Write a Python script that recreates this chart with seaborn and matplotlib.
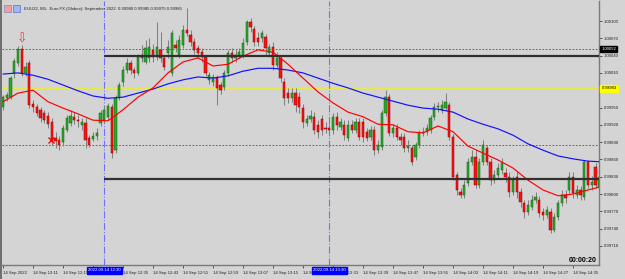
import matplotlib
matplotlib.use("Agg")
import matplotlib.pyplot as plt
import matplotlib.transforms as mtransforms
from matplotlib.patches import Rectangle
import seaborn as sns
import numpy as np
import pandas as pd

# ---- data: M1 candles, prices in points above 0.99000 (1 point = 0.00001) ----
BASE = 0.99000
POINT = 0.00001

open_pts = [951, 966, 968, 1010, 1027, 1051, 1010, 1027, 956, 951,
            946, 941, 935, 925, 897, 894, 890, 911, 923, 934,
            928, 920, 923, 897, 895, 901, 923, 928, 934, 951,
            876, 966, 994, 1015, 1027, 1015, 1010, 1041, 1029, 1036,
            1050, 1038, 1050, 1036, 1045, 1010, 1058, 1041, 1058, 1084,
            1076, 1064, 1053, 1046, 1038, 998, 994, 1001, 989, 986,
            1010, 1045, 1036, 1041, 1041, 1064, 1098, 1086, 1071, 1071,
            1072, 1045, 1055, 1024, 1036, 994, 975, 966, 975, 968,
            949, 923, 930, 934, 920, 930, 914, 914, 911, 934,
            916, 920, 897, 920, 911, 925, 925, 908, 899, 911,
            876, 882, 941, 968, 906, 914, 899, 899, 880, 880,
            864, 885, 906, 908, 911, 934, 951, 946, 949, 954,
            899, 833, 803, 798, 819, 856, 864, 816, 856, 880,
            856, 824, 833, 842, 836, 830, 803, 830, 803, 784,
            769, 777, 790, 790, 769, 764, 769, 738, 760, 784,
            798, 807, 830, 798, 807, 795, 856, 816, 847, 812]
close_pts = [968, 972, 1001, 1031, 1051, 1010, 1020, 954, 951, 941,
             932, 928, 921, 894, 892, 885, 914, 932, 935, 928,
             927, 925, 894, 885, 901, 906, 941, 946, 953, 871,
             966, 989, 1015, 1027, 1015, 1010, 1038, 1036, 1053, 1055,
             1038, 1055, 1036, 1020, 1055, 1079, 1053, 1067, 1084, 1079,
             1064, 1050, 1045, 1038, 1010, 1006, 1003, 984, 980, 1010,
             1045, 1036, 1041, 1046, 1062, 1098, 1090, 1064, 1064, 1079,
             1053, 1055, 1024, 1036, 1001, 966, 966, 975, 954, 951,
             925, 930, 935, 911, 908, 911, 913, 911, 934, 920,
             925, 902, 920, 911, 925, 899, 899, 897, 911, 876,
             885, 941, 968, 906, 914, 899, 894, 880, 883, 856,
             885, 906, 908, 914, 932, 951, 953, 954, 960, 899,
             830, 807, 798, 816, 856, 864, 816, 856, 885, 856,
             824, 833, 845, 854, 830, 803, 824, 803, 786, 769,
             781, 790, 795, 767, 764, 772, 738, 760, 784, 798,
             793, 830, 802, 807, 798, 856, 816, 821, 816, 830]
high_pts = [972, 977, 1005, 1036, 1057, 1058, 1029, 1032, 963, 956,
            951, 946, 942, 932, 908, 901, 920, 937, 946, 942,
            937, 932, 932, 902, 908, 914, 946, 953, 958, 956,
            972, 994, 1022, 1036, 1032, 1020, 1043, 1058, 1067, 1071,
            1060, 1098, 1081, 1041, 1067, 1084, 1067, 1076, 1093, 1122,
            1084, 1071, 1058, 1053, 1041, 1012, 1008, 1006, 994, 1015,
            1050, 1053, 1050, 1053, 1071, 1102, 1105, 1091, 1081, 1084,
            1077, 1060, 1064, 1046, 1041, 1001, 984, 984, 984, 977,
            956, 937, 946, 942, 928, 937, 925, 921, 941, 942,
            932, 928, 928, 928, 932, 932, 932, 914, 918, 918,
            894, 946, 980, 973, 921, 921, 906, 906, 894, 885,
            890, 911, 916, 921, 937, 958, 960, 963, 975, 960,
            904, 838, 810, 824, 862, 876, 876, 862, 894, 885,
            862, 842, 854, 862, 845, 838, 831, 838, 810, 790,
            790, 798, 803, 797, 776, 779, 776, 767, 790, 807,
            807, 838, 838, 816, 814, 859, 859, 831, 854, 835]
low_pts = [946, 961, 965, 1001, 1022, 1005, 1005, 949, 942, 935,
           925, 923, 914, 885, 880, 876, 883, 908, 918, 921,
           916, 911, 880, 882, 892, 894, 918, 923, 928, 862,
           871, 963, 987, 1010, 1008, 1001, 1006, 1029, 1025, 1029,
           1029, 1032, 1029, 1015, 1036, 1005, 1046, 1036, 1053, 1074,
           1057, 1043, 1036, 1029, 1005, 991, 987, 954, 973, 980,
           1005, 1029, 1029, 1036, 1036, 1058, 1081, 1057, 1057, 1064,
           1041, 1038, 1015, 1018, 994, 954, 958, 960, 942, 941,
           914, 918, 925, 904, 897, 902, 906, 901, 904, 911,
           911, 894, 892, 906, 906, 894, 890, 892, 894, 868,
           871, 876, 935, 901, 899, 894, 885, 873, 873, 850,
           859, 880, 901, 902, 906, 928, 942, 941, 946, 894,
           824, 798, 793, 793, 814, 850, 810, 810, 850, 850,
           816, 819, 828, 835, 821, 795, 798, 793, 777, 758,
           764, 772, 784, 760, 755, 758, 732, 734, 755, 779,
           784, 802, 793, 793, 790, 790, 810, 807, 810, 807]

# moving averages (bar index, points)
ma_bars = [0, 4, 8, 12, 16, 20, 24, 28, 32, 36, 40, 44, 48, 52, 56, 60, 64, 68, 72, 76,
           80, 84, 88, 92, 96, 100, 104, 108, 112, 116, 120, 124, 128, 132, 136, 140, 144,
           148, 152, 156, 159]
ma_fast_pts = [960, 975, 980, 960, 949, 939, 928, 927, 946, 968, 984, 1010, 1029, 1036, 1022,
               1025, 1039, 1050, 1046, 1025, 1001, 977, 958, 942, 934, 921, 920, 908, 906, 918,
               908, 883, 871, 859, 845, 824, 807, 797, 800, 807, 812]
ma_slow_pts = [1008, 1010, 1006, 999, 989, 979, 970, 966, 968, 975, 982, 991, 998, 1003, 1001,
               1005, 1013, 1018, 1018, 1015, 1010, 1001, 992, 984, 975, 968, 961, 954, 949, 947,
               942, 930, 921, 913, 902, 887, 876, 866, 861, 857, 856]

time_idx = [0, 8, 16, 24, 32, 40, 48, 56, 64, 72, 80, 88, 96, 104, 112, 120, 128, 136, 144, 152]
time_labels = ["14 Sep 2022", "14 Sep 12:11", "14 Sep 12:19", "", "14 Sep 12:35",
               "14 Sep 12:43", "14 Sep 12:51", "14 Sep 12:59", "14 Sep 13:07", "14 Sep 13:15",
               "14 Sep 13:23", "14 Sep 13:31", "14 Sep 13:39", "14 Sep 13:47", "14 Sep 13:55",
               "14 Sep 14:03", "14 Sep 14:11", "14 Sep 14:19", "14 Sep 14:27", "14 Sep 14:35"]
price_ticks = [1.00100, 1.00070, 1.00040, 1.00010, 0.99980, 0.99950, 0.99920, 0.99890,
               0.99860, 0.99830, 0.99800, 0.99770, 0.99740, 0.99710]
price_tick_labels = ["1.00100", "1.00070", "1.00040", "1.00010", "", "0.99950", "0.99920",
                     "0.99890", "0.99860", "0.99830", "0.99800", "0.99770", "0.99740", "0.99710"]

vline_bars = [27, 87]
vline_labels = ["2022.09.14 12:30", "2022.09.14 13:30"]
dotted_levels = [1.00052, 0.99885]
rect_levels = [1.00040, 0.99826]
yellow_level = 0.99983
title = "EUU22, M1:  Euro FX (Globex): September 2022  0.99980 0.99985 0.99975 0.99985"
timer_text = "00:00:20"

# ---- frame ----
df = pd.DataFrame({
    "bar": np.arange(len(open_pts)),
    "open": BASE + np.array(open_pts) * POINT,
    "high": BASE + np.array(high_pts) * POINT,
    "low": BASE + np.array(low_pts) * POINT,
    "close": BASE + np.array(close_pts) * POINT,
})
ma = pd.DataFrame({
    "bar": ma_bars,
    "fast": BASE + np.array(ma_fast_pts) * POINT,
    "slow": BASE + np.array(ma_slow_pts) * POINT,
})

BG = "#d4d4d4"
sns.set_theme(style="white", rc={"axes.facecolor": BG, "figure.facecolor": BG})
plt.rcParams["font.family"] = ["Liberation Sans", "DejaVu Sans"]

fig = plt.figure(figsize=(6.25, 2.79), dpi=100)
fig.patch.set_facecolor(BG)
ax = fig.add_axes([2 / 625, 14 / 279, 597 / 625, 264 / 279])
ax.set_facecolor(BG)

# candles
up = df["close"] >= df["open"]
ax.vlines(df["bar"], df["low"], df["high"], color="#808080", lw=0.75, zorder=2)
body_bottom = np.minimum(df["open"], df["close"])
body_h = np.maximum((df["close"] - df["open"]).abs(), 0.7 * POINT)
ax.bar(df["bar"][up], body_h[up], bottom=body_bottom[up], width=0.55,
       color="#2aa82a", edgecolor="#106010", linewidth=0.35, zorder=3)
ax.bar(df["bar"][~up], body_h[~up], bottom=body_bottom[~up], width=0.55,
       color="#ff1010", edgecolor="#900000", linewidth=0.35, zorder=3)

# moving averages
sns.lineplot(data=ma, x="bar", y="slow", color="#1010ff", lw=0.85, ax=ax, zorder=4)
sns.lineplot(data=ma, x="bar", y="fast", color="#ff0000", lw=0.85, ax=ax, zorder=4)

# horizontal / vertical objects
for lv in dotted_levels:
    ax.axhline(lv, color="#505050", lw=0.6, ls=(0, (2, 2)), zorder=1)
ax.axhline(yellow_level, color="#f4f400", lw=0.45, zorder=1)
for lv in rect_levels:
    ax.hlines(lv, vline_bars[0], 170, color="#303030", lw=1.6, zorder=5)
for b in vline_bars:
    ax.axvline(b, color="#7070ff", lw=0.8, ls="-.", zorder=1)

# markers
ax.text(5, BASE + 1069 * POINT, "\u21e9", color="#ff3030", fontsize=9,
        ha="center", va="center", family="DejaVu Sans", zorder=6)
ax.plot([12.8], [BASE + 894 * POINT], marker="x", color="#ff0000", ms=4, mew=1.0, zorder=6)

# axes
ax.set_xlim(-0.27, 158.93)
ax.set_ylim(0.996769, 1.001347)
ax.set_xlabel("")
ax.set_ylabel("")
ax.yaxis.tick_right()
ax.set_yticks(price_ticks)
ax.set_yticklabels(price_tick_labels)
ax.tick_params(axis="y", right=True, left=False, length=2.5, width=0.6, color="#404040",
               pad=1, labelsize=3.1, labelcolor="#202020")
ax.set_xticks(time_idx)
ax.set_xticklabels(time_labels)
for lab in ax.get_xticklabels():
    lab.set_ha("left")
ax.tick_params(axis="x", bottom=True, length=2.5, width=0.6, color="#404040",
               pad=1.5, labelsize=3.1, labelcolor="#202020")
for s in ["top", "left"]:
    ax.spines[s].set_visible(False)
for s in ["right", "bottom"]:
    ax.spines[s].set_color("#7a7a7a")
    ax.spines[s].set_linewidth(1.0)

# price boxes on right axis
ty = mtransforms.blended_transform_factory(ax.transAxes, ax.transData)
ax.text(1.004, dotted_levels[0], f"{dotted_levels[0]:.5f}", transform=ty, ha="left", va="center",
        fontsize=3.1, color="white", clip_on=False, zorder=7,
        bbox=dict(boxstyle="square,pad=0.25", fc="black", ec="black"))
ax.text(1.004, yellow_level, f"{yellow_level:.5f}", transform=ty, ha="left", va="center",
        fontsize=3.1, color="black", clip_on=False, zorder=7,
        bbox=dict(boxstyle="square,pad=0.25", fc="#ffff00", ec="#ffff00"))

# vertical line labels on time axis
tx = mtransforms.blended_transform_factory(ax.transData, ax.transAxes)
for b, lab in zip(vline_bars, vline_labels):
    ax.text(b, -0.013, lab, transform=tx, ha="center", va="top", fontsize=3.1, color="white",
            clip_on=False, zorder=7,
            bbox=dict(boxstyle="square,pad=0.3", fc="#0000ff", ec="#0000ff"))

# title, timer, left border
fig.text(24 / 625, 1 - 9 / 279, title, fontsize=3.1, color="#202020", va="center", ha="left")
fig.patches.append(Rectangle((4 / 625, 1 - 12 / 279), 7 / 625, 7 / 279, transform=fig.transFigure,
                             fc="#f0a0a0", ec="#6080c0", lw=0.4))
fig.patches.append(Rectangle((13 / 625, 1 - 12 / 279), 7 / 625, 7 / 279, transform=fig.transFigure,
                             fc="#a0b8f0", ec="#4060c0", lw=0.4))
fig.text(597 / 625, 1 - 261 / 279, timer_text, fontsize=5, fontweight="bold", color="black",
         ha="right", va="center")
fig.patches.append(Rectangle((0, 0), 2 / 625, 1, transform=fig.transFigure, fc="#707070", ec="none"))

fig.savefig("out.png", dpi=100, facecolor=BG)
